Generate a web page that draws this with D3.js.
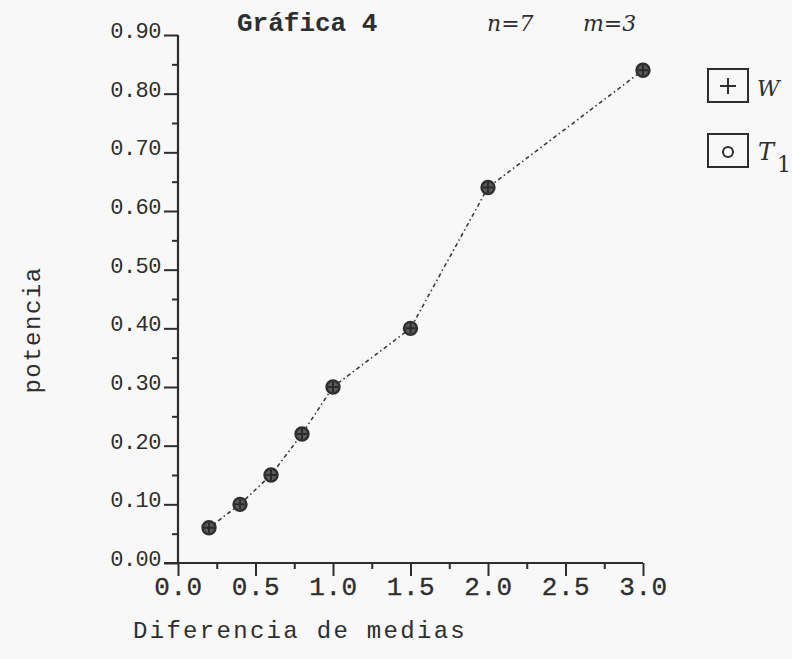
<!DOCTYPE html>
<html><head><meta charset="utf-8">
<script src="https://cdn.jsdelivr.net/npm/d3@7"></script>
<style>
html,body{margin:0;padding:0;background:#f8f8f8;}
svg{display:block;}
text{fill:#2e2e2e;font-family:"Liberation Mono","DejaVu Sans Mono",monospace;}
</style></head>
<body>
<svg id="chart" width="792" height="659"></svg>
<script>
// ---- data ----
const diffMeans = [0.2, 0.4, 0.6, 0.8, 1.0, 1.5, 2.0, 3.0];
const powerW    = [0.06, 0.10, 0.15, 0.22, 0.30, 0.40, 0.64, 0.84];
const powerT1   = [0.06, 0.10, 0.15, 0.22, 0.30, 0.40, 0.64, 0.84];
const yTickValues = [0, 0.1, 0.2, 0.3, 0.4, 0.5, 0.6, 0.7, 0.8, 0.9];
const yTickLabels = ["0.00","0.10","0.20","0.30","0.40","0.50","0.60","0.70","0.80","0.90"];
const xTickValues = [0, 0.5, 1.0, 1.5, 2.0, 2.5, 3.0];
const xTickLabels = ["0.0","0.5","1.0","1.5","2.0","2.5","3.0"];
const seriesNames = ["W", "T"];
const titleText = "Gráfica 4";
const xTitle = "Diferencia de medias";
const yTitle = "potencia";

const ink = "#2e2e2e";
const svg = d3.select("#chart");
const x = d3.scaleLinear().domain([0, 3]).range([178, 643]);
const y = d3.scaleLinear().domain([0, 0.9]).range([563, 35]);

// ---- axes ----
const yMinor = d3.range(0.05, 0.9, 0.1);
const xMinor = d3.range(0.25, 3, 0.5);

const gy = svg.append("g").attr("transform", `translate(${x(0)},0)`);
gy.call(d3.axisLeft(y).tickValues(yTickValues).tickSize(14).tickSizeOuter(0)
  .tickFormat((d, i) => yTickLabels[i]));
gy.select(".domain").remove();
gy.selectAll(".tick line").attr("stroke", ink).attr("stroke-width", 2);
gy.selectAll(".tick text").attr("x", -17).attr("dy", "0.12em")
  .style("font-size", "22px").style("letter-spacing", "-0.5px").attr("fill", ink);
const gyMinor = svg.append("g").attr("transform", `translate(${x(0)},0)`);
gyMinor.call(d3.axisLeft(y).tickValues(yMinor).tickSize(6).tickFormat(""));
gyMinor.select(".domain").remove();
gyMinor.selectAll(".tick line").attr("stroke", ink).attr("stroke-width", 2);

const gx = svg.append("g").attr("transform", `translate(0,${y(0)})`);
gx.call(d3.axisBottom(x).tickValues(xTickValues).tickSize(13).tickSizeOuter(0)
  .tickFormat((d, i) => xTickLabels[i]));
gx.select(".domain").remove();
gx.selectAll(".tick line").attr("stroke", ink).attr("stroke-width", 2);
gx.selectAll(".tick text").attr("y", 14).attr("dy", "0.71em")
  .style("font-size", "26px").style("letter-spacing", "0.5px").attr("fill", ink)
  .attr("stroke", ink).attr("stroke-width", 0.3);
const gxMinor = svg.append("g").attr("transform", `translate(0,${y(0)})`);
gxMinor.call(d3.axisBottom(x).tickValues(xMinor).tickSize(6).tickFormat(""));
gxMinor.select(".domain").remove();
gxMinor.selectAll(".tick line").attr("stroke", ink).attr("stroke-width", 2);

// axis lines
svg.append("line").attr("x1", x(0)).attr("x2", x(0)).attr("y1", y(0)).attr("y2", y(0.9))
  .attr("stroke", ink).attr("stroke-width", 2.2);
svg.append("line").attr("x1", x(0) - 14).attr("x2", x(3)).attr("y1", y(0)).attr("y2", y(0))
  .attr("stroke", ink).attr("stroke-width", 2.2);

// ---- line ----
const pts = diffMeans.map((d, i) => [x(d), y(powerW[i])]);
svg.append("path").attr("d", d3.line()(pts)).attr("fill", "none")
  .attr("stroke", "#3a3a3a").attr("stroke-width", 1.6).attr("stroke-dasharray", "4,3,1.5,3");

// ---- markers ----
const mk = svg.append("g");
diffMeans.forEach((d, i) => {
  mk.append("circle").attr("cx", x(d)).attr("cy", y(powerT1[i])).attr("r", 6.5)
    .attr("fill", "#5a5a5a").attr("stroke", ink).attr("stroke-width", 2.4);
  mk.append("path").attr("transform", `translate(${x(d)},${y(powerW[i])})`)
    .attr("d", "M-5,0H5M0,-5V5").attr("stroke", "#2a2a2a").attr("stroke-width", 2);
});

// ---- titles ----
svg.append("text").attr("x", 237).attr("y", 31).text(titleText)
  .style("font-size", "26px").style("font-weight", "bold");
svg.append("text").attr("x", 487).attr("y", 31).text("n=7")
  .style("font-size", "22px").style("font-style", "italic").style("font-family", "'DejaVu Serif',serif");
svg.append("text").attr("x", 583).attr("y", 31).text("m=3")
  .style("font-size", "22px").style("font-style", "italic").style("font-family", "'DejaVu Serif',serif");

svg.append("text").attr("x", 133).attr("y", 638).text(xTitle)
  .style("font-size", "24px").style("letter-spacing", "2.3px");
svg.append("text").attr("transform", "translate(40,330) rotate(-90)")
  .attr("text-anchor", "middle").text(yTitle)
  .style("font-size", "24px").style("letter-spacing", "1.5px");

// ---- legend ----
const lg = svg.append("g");
const boxY = [69, 134];
seriesNames.forEach((nm, i) => {
  lg.append("rect").attr("x", 708).attr("y", boxY[i]).attr("width", 40).attr("height", 33)
    .attr("fill", "none").attr("stroke", ink).attr("stroke-width", 2);
});
lg.append("path").attr("d", "M720,86H736M728,78V94").attr("stroke", ink).attr("stroke-width", 2);
lg.append("circle").attr("cx", 728).attr("cy", 152).attr("r", 5)
  .attr("fill", "none").attr("stroke", ink).attr("stroke-width", 2);
lg.append("text").attr("x", 757).attr("y", 96).text(seriesNames[0])
  .style("font-size", "22px").style("font-style", "italic").style("font-family", "'DejaVu Serif',serif");
const t1 = lg.append("text").attr("x", 758).attr("y", 160)
  .style("font-size", "24px").style("font-style", "italic").style("font-family", "'DejaVu Serif',serif");
t1.append("tspan").text(seriesNames[1]);
t1.append("tspan").attr("dx", 3).attr("dy", 12).style("font-style", "normal").style("font-size", "22px").text("1");
</script>
</body></html>
